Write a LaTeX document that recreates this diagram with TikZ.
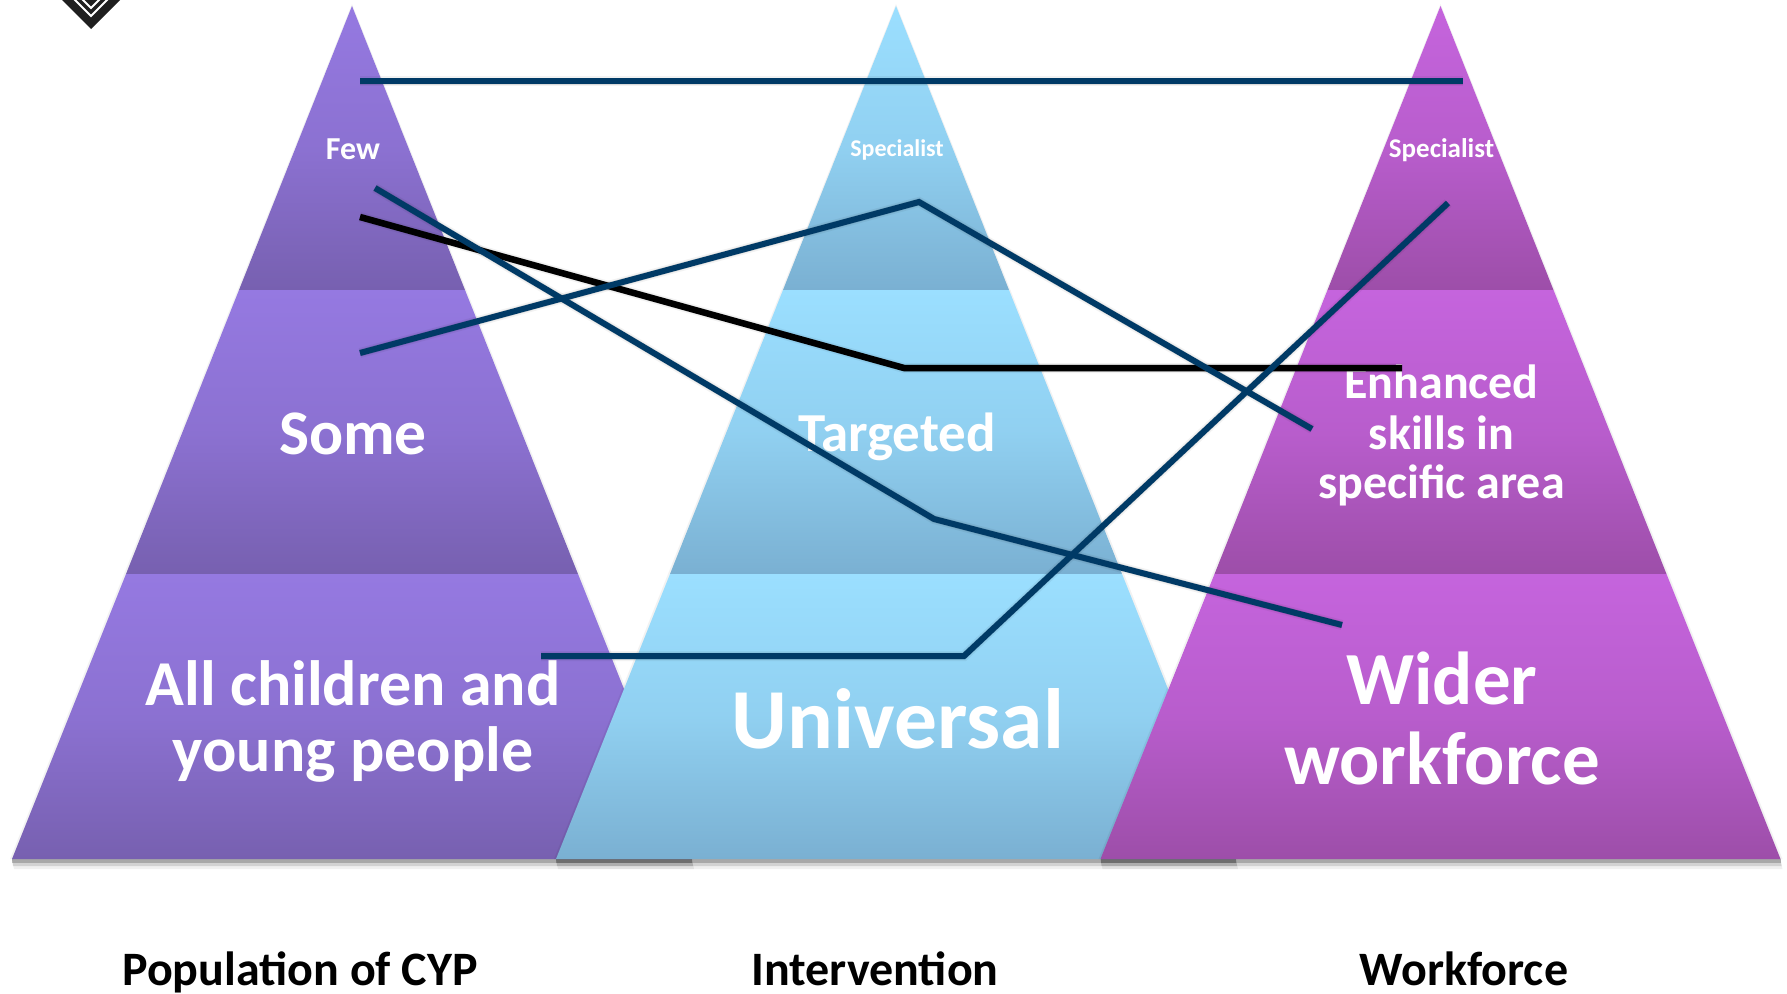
\documentclass[tikz,border=0pt]{standalone}
\usepackage{fontspec}
\setmainfont{Carlito}
\definecolor{pT}{HTML}{9579E1}\definecolor{pB}{HTML}{7760B0}
\definecolor{bT}{HTML}{9BDFFF}\definecolor{bB}{HTML}{7AB0D2}
\definecolor{mT}{HTML}{C564DD}\definecolor{mB}{HTML}{9D4EA9}
\definecolor{navy}{HTML}{003A66}
\tikzset{
  lab/.style={text=white,align=center,inner sep=0pt},
  captxt/.style={text=black,font=\bfseries\fontsize{48}{50}\selectfont,inner sep=0pt,anchor=base},
  link/.style={line width=6pt,line join=miter,draw=navy},
  blk/.style={line width=6.5pt,line join=miter,draw=black},
  shad/.style={line width=7pt,draw=black,opacity=.10},
  shadb/.style={line width=10pt,draw=black,opacity=.05},
  band/.style={top color=#1T,bottom color=#1B,middle color=#1T!68!#1B},
}
% #1 apex x, #2 colour prefix
\newcommand{\pyr}[2]{%
  \fill[black,opacity=.05] (#1,4)--(#1-342,859)--(#1+342,859)--cycle;
  \fill[black,opacity=.06] (#1-340,859)--(#1+340,859)--(#1+342,869)--(#1-338,869)--cycle;
  \fill[black,opacity=.12] (#1-340,859)--(#1+340,859)--(#1+341,866)--(#1-339,866)--cycle;
  \fill[black,opacity=.20] (#1-340,859)--(#1+340,859)--(#1+340,863)--(#1-340,863)--cycle;
  \path[band=#2] (#1,6)--(#1-113,290)--(#1+113,290)--cycle;
  \path[band=#2] (#1-113,290)--(#1-226,574)--(#1+226,574)--(#1+113,290)--cycle;
  \path[band=#2] (#1-226,574)--(#1-340,859)--(#1+340,859)--(#1+226,574)--cycle;
}
\newcommand{\fs}[1]{\fontsize{#1}{#1}\selectfont}
\begin{document}
\begin{tikzpicture}[x=1pt,y=-1pt]
\useasboundingbox (0,0) rectangle (1787,993);
\fill[white] (0,0) rectangle (1787,993);
% logo
\begin{scope}
\clip (0,0) rectangle (1787,993);
\fill[black!88] (60,-2)--(91,29)--(122,-2)--cycle;
\draw[white,line width=2pt] (73,-2)--(91,16)--(109,-2);
\draw[white,line width=2pt] (82,-1)--(91,8)--(100,-1);
\end{scope}
\pyr{352}{p}
\pyr{896}{b}
\pyr{1440.5}{m}
% labels
\node[lab,font=\bfseries\fs{32}] (few) at (353,149.5) {Few};
\node[lab,font=\bfseries\fs{63.5}] (some) at (353,434) {Some};
\node[lab,font=\bfseries\fs{64}] (all) at (353,683) {All children and};
\node[lab,font=\bfseries\fs{64}] (young) at (353,754) {young people};
\node[lab,font=\bfseries\fs{24}] (spec1) at (897,150) {Specialist};
\node[lab,font=\bfseries\fs{55}] (targ) at (897,437) {Targeted};
\node[lab,font=\bfseries\fs{85.5}] (univ) at (898,719) {Universal};
\node[lab,font=\bfseries\fs{27}] (spec2) at (1441.5,150) {Specialist};
\node[lab,font=\bfseries\fs{48}] (enh) at (1441.5,382) {Enhanced};
\node[lab,font=\bfseries\fs{48}] (skills) at (1441.5,433) {skills in};
\node[lab,font=\bfseries\fs{48}] (area) at (1441.5,485) {specific area};
\node[lab,font=\bfseries\fs{75}] (wider) at (1442,678) {Wider};
\node[lab,font=\bfseries\fs{75}] (work) at (1442,758) {workforce};
\node[captxt] (c1) at (300,985) {Population of CYP};
\node[captxt] (c2) at (875,985) {Intervention};
\node[captxt] (c3) at (1464,985) {Workforce};
% connector ends
\coordinate (a1) at (360,81);   \coordinate (a2) at (1463,81);
\coordinate (k1) at (360,217);  \coordinate (k2) at (904,368);  \coordinate (k3) at (1402,368);
\coordinate (b1) at (375,188);  \coordinate (b2) at (934,519);  \coordinate (b3) at (1342,625);
\coordinate (d1) at (360,353);  \coordinate (d2) at (919,202);  \coordinate (d3) at (1312,429);
\coordinate (e1) at (541,656);  \coordinate (e2) at (964,656);  \coordinate (e3) at (1448,203);
% shadows of connectors
\begin{scope}[shift={(1,3)}]
\foreach \s in {shadb,shad}{
\draw[\s] (a1)--(a2);
\draw[\s] (k1)--(k2)--(k3);
\draw[\s] (b1)--(b2)--(b3);
\draw[\s] (d1)--(d2)--(d3);
\draw[\s] (e1)--(e2)--(e3);
}
\end{scope}
\draw[blk] (k1)--(k2)--(k3);
\draw[link] (a1)--(a2);
\draw[link] (b1)--(b2)--(b3);
\draw[link] (d1)--(d2)--(d3);
\draw[link] (e1)--(e2)--(e3);
\end{tikzpicture}
\end{document}
